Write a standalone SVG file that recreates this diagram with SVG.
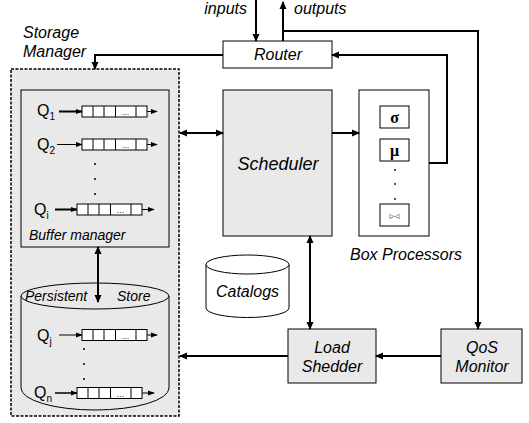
<svg xmlns="http://www.w3.org/2000/svg" width="529" height="423" viewBox="0 0 529 423">
<style>
  text { font-family: "Liberation Sans", Arial, sans-serif; fill: #000; }
  .it { font-style: italic; font-size: 16px; }
  .sm { font-style: italic; font-size: 14px; }
  .q { font-size: 16px; }
  .sub { font-size: 10px; }
  .box { fill: #fff; stroke: #000; stroke-width: 1; }
  .gbox { fill: #e9e9e9; stroke: #000; stroke-width: 1; }
  .conn { fill: none; stroke: #000; stroke-width: 2; }
  .cell { fill: #fff; stroke: #000; stroke-width: 1; }
  .qdots { font-size: 9px; fill: #333; }
</style>
<defs>
  <marker id="ah" viewBox="0 0 8 8" refX="7" refY="4" markerWidth="8" markerHeight="8" markerUnits="userSpaceOnUse" orient="auto-start-reverse">
    <path d="M0,0.5 L8,4 L0,7.5 z" fill="#000"/>
  </marker>
  <marker id="ahs" viewBox="0 0 8 8" refX="7" refY="4" markerWidth="7" markerHeight="7" markerUnits="userSpaceOnUse" orient="auto-start-reverse">
    <path d="M0,1 L8,4 L0,7 z" fill="#000"/>
  </marker>
  <g id="queue">
    <rect class="cell" x="0" y="0" width="65" height="11"/>
    <line x1="11" y1="0" x2="11" y2="11" stroke="#000" stroke-width="1"/>
    <line x1="22" y1="0" x2="22" y2="11" stroke="#000" stroke-width="1"/>
    <line x1="33.5" y1="0" x2="33.5" y2="11" stroke="#000" stroke-width="1"/>
    <line x1="54" y1="0" x2="54" y2="11" stroke="#000" stroke-width="1"/>
    <text class="qdots" x="43.5" y="9" text-anchor="middle">...</text>
  </g>
</defs>

<!-- Storage Manager -->
<g id="storage-manager">
  <rect x="11" y="69" width="168" height="347" fill="#e9e9e9" stroke="#000" stroke-width="1.5" stroke-dasharray="3,1.5"/>
  <text class="it" x="23" y="38">Storage</text>
  <text class="it" x="23" y="57">Manager</text>
</g>

<g id="buffer-manager">
  <rect class="gbox" x="21" y="90" width="148" height="157"/>
  <text class="sm" x="29" y="240">Buffer manager</text>
  <!-- Q1 -->
  <text class="q" x="37" y="116">Q<tspan class="sub" dy="4">1</tspan></text>
  <line x1="59" y1="111.5" x2="82" y2="111.5" stroke="#000" stroke-width="2" marker-end="url(#ahs)"/>
  <use href="#queue" x="82" y="106"/>
  <line x1="147" y1="111.5" x2="157" y2="111.5" stroke="#000" stroke-width="1" marker-end="url(#ahs)"/>
  <!-- Q2 -->
  <text class="q" x="37" y="150">Q<tspan class="sub" dy="4">2</tspan></text>
  <line x1="57" y1="144.5" x2="82" y2="144.5" stroke="#000" stroke-width="1" marker-end="url(#ahs)"/>
  <use href="#queue" x="82" y="139"/>
  <line x1="147" y1="144.5" x2="157" y2="144.5" stroke="#000" stroke-width="1" marker-end="url(#ahs)"/>
  <circle cx="95" cy="164" r="1" fill="#000"/>
  <circle cx="95" cy="179" r="1" fill="#000"/>
  <circle cx="95" cy="194" r="1" fill="#000"/>
  <!-- Qi -->
  <text class="q" x="34" y="215">Q<tspan class="sub" dy="4">i</tspan></text>
  <line x1="55" y1="209.5" x2="77" y2="209.5" stroke="#000" stroke-width="2" marker-end="url(#ahs)"/>
  <use href="#queue" x="77" y="204"/>
  <line x1="142" y1="209.5" x2="154" y2="209.5" stroke="#000" stroke-width="1" marker-end="url(#ahs)"/>
</g>

<g id="persistent-store">
  <path d="M21,296 L21,388 A74,22 0 0 0 169,388 L169,296" fill="#e9e9e9" stroke="#000" stroke-width="1"/>
  <ellipse cx="95" cy="296" rx="74" ry="13" fill="#e9e9e9" stroke="#000" stroke-width="1"/>
  <text class="sm" x="25" y="301">Persistent</text>
  <text class="sm" x="117" y="301">Store</text>
  <!-- Qj -->
  <text class="q" x="37" y="341">Q<tspan class="sub" dy="4">j</tspan></text>
  <line x1="59" y1="335" x2="82" y2="335" stroke="#000" stroke-width="1" marker-end="url(#ahs)"/>
  <use href="#queue" x="82" y="329.5"/>
  <line x1="147" y1="335" x2="157" y2="335" stroke="#000" stroke-width="1" marker-end="url(#ahs)"/>
  <circle cx="84" cy="349" r="1" fill="#000"/>
  <circle cx="84" cy="364" r="1" fill="#000"/>
  <circle cx="84" cy="379" r="1" fill="#000"/>
  <!-- Qn -->
  <text class="q" x="34" y="398">Q<tspan class="sub" dy="4">n</tspan></text>
  <line x1="55" y1="393" x2="77" y2="393" stroke="#000" stroke-width="1.5" marker-end="url(#ahs)"/>
  <use href="#queue" x="77" y="387.5"/>
  <line x1="142" y1="393" x2="154" y2="393" stroke="#000" stroke-width="1" marker-end="url(#ahs)"/>
</g>

<g id="router">
  <rect class="box" x="223" y="41" width="109" height="27"/>
  <text class="it" x="278" y="60" text-anchor="middle">Router</text>
</g>

<g id="scheduler">
  <rect class="gbox" x="223" y="90" width="109" height="146"/>
  <text class="it" x="278" y="170" text-anchor="middle" style="font-size:18px">Scheduler</text>
</g>

<g id="box-processors">
  <rect class="box" x="359" y="90" width="70" height="146"/>
  <rect class="box" x="380" y="106" width="29" height="22"/>
  <text x="394.5" y="123" text-anchor="middle" style="font-family:'Liberation Serif','Times New Roman',serif;font-weight:bold;font-size:16px">σ</text>
  <rect class="box" x="380" y="139" width="29" height="22"/>
  <text x="394.5" y="156" text-anchor="middle" style="font-family:'Liberation Serif','Times New Roman',serif;font-weight:bold;font-size:16px">μ</text>
  <circle cx="395" cy="170" r="0.9" fill="#000"/>
  <circle cx="395" cy="184" r="0.9" fill="#000"/>
  <circle cx="395" cy="199" r="0.9" fill="#000"/>
  <rect class="box" x="380" y="204" width="29" height="22"/>
  <text x="394.5" y="219" text-anchor="middle" style="font-family:'DejaVu Sans',sans-serif;font-size:10px;fill:#666">▹◃</text>
  <text class="it" x="350" y="260">Box Processors</text>
</g>

<g id="catalogs">
  <path d="M206,264.5 L206,308 A41.5,9.5 0 0 0 289,308 L289,264.5" fill="#fff" stroke="#000" stroke-width="1"/>
  <ellipse cx="247.5" cy="264.5" rx="41.5" ry="9.5" fill="#fff" stroke="#000" stroke-width="1"/>
  <text class="it" x="247.5" y="297" text-anchor="middle">Catalogs</text>
</g>

<g id="load-shedder">
  <rect class="gbox" x="288" y="329" width="88" height="54"/>
  <text class="it" x="332" y="353" text-anchor="middle">Load</text>
  <text class="it" x="332" y="372" text-anchor="middle">Shedder</text>
</g>

<g id="qos-monitor">
  <rect class="gbox" x="441" y="329" width="81" height="54"/>
  <text class="it" x="482" y="353" text-anchor="middle">QoS</text>
  <text class="it" x="482" y="372" text-anchor="middle">Monitor</text>
</g>

<g id="inputs-outputs">
  <text class="it" x="247" y="14" text-anchor="end">inputs</text>
  <text class="it" x="294" y="14">outputs</text>
</g>

<g id="connectors">
  <line class="conn" x1="256" y1="0" x2="256" y2="41" marker-end="url(#ah)"/>
  <line class="conn" x1="283" y1="41" x2="283" y2="2" marker-end="url(#ah)"/>
  <polyline class="conn" points="283,31 478,31 478,329" marker-end="url(#ah)"/>
  <polyline class="conn" points="223,55 95,55 95,69" marker-end="url(#ah)"/>
  <polyline class="conn" points="429,163 447,163 447,55 332,55" marker-end="url(#ah)"/>
  <line class="conn" x1="180" y1="133" x2="223" y2="133" marker-start="url(#ah)" marker-end="url(#ah)"/>
  <line class="conn" x1="332" y1="133" x2="359" y2="133" marker-end="url(#ah)"/>
  <line class="conn" x1="310" y1="236" x2="310" y2="329" marker-start="url(#ah)" marker-end="url(#ah)"/>
  <line class="conn" x1="441" y1="356" x2="376" y2="356" marker-end="url(#ah)"/>
  <line class="conn" x1="288" y1="356" x2="180" y2="356" marker-end="url(#ah)"/>
  <line class="conn" x1="98" y1="247" x2="98" y2="302" marker-start="url(#ah)" marker-end="url(#ah)"/>
</g>
</svg>
